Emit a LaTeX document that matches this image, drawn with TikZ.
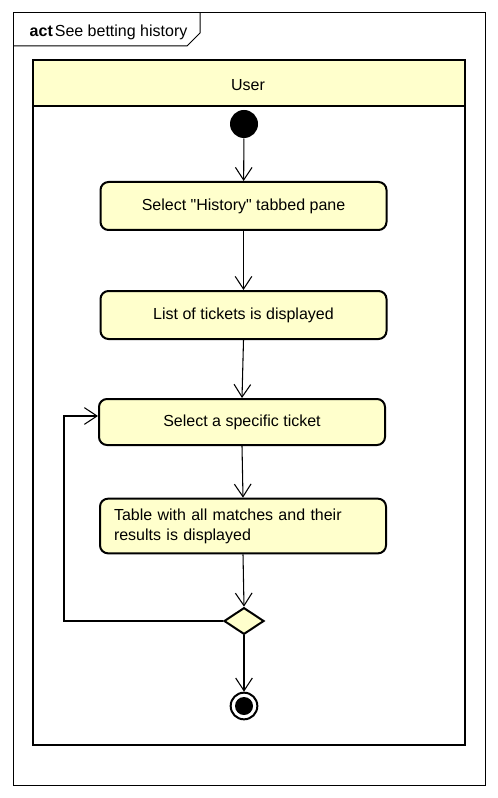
\documentclass[tikz,border=0pt]{standalone}
\usepackage{fontspec}
\setmainfont{Liberation Sans}[Ligatures=TeXOff]
\usetikzlibrary{shapes.geometric,arrows.meta}
\definecolor{umlyellow}{RGB}{255,255,204}
\tikzset{
  action/.style={draw, line width=1.5pt, rounded corners=6pt, fill=umlyellow,
    minimum width=214.5pt, minimum height=36pt, inner sep=0pt},
  flow/.style={-{Straight Barb[length=9.5pt,width=12.5pt]}, line width=0.8pt},
  initnode/.style={circle, fill=black, minimum size=21pt, inner sep=0pt},
  finalnode/.style={circle, draw, line width=1.5pt, minimum size=20pt, inner sep=0pt,
    path picture={\fill (path picture bounding box.center) circle (6.75pt);}},
  decision/.style={diamond, draw, line width=1.5pt, fill=umlyellow,
    minimum width=30pt, minimum height=20pt, inner sep=0pt}
}
\begin{document}
\begin{tikzpicture}[x=0.75pt, y=-0.75pt, every node/.style={font=\fontsize{12}{15}\selectfont}]
  \useasboundingbox (0,0) rectangle (497,798);
  % 1. frame and tab
  \draw[line width=0.75pt] (13,13) rectangle (485,785);
  \draw[line width=0.75pt] (13,46) -- (187,46) -- (200,33) -- (200,13);
  \node[anchor=west] (title) at (25,32) {\textbf{act}\hspace{1.5pt}See betting history};

  % 2. swimlane
  \draw[line width=1.5pt, fill=umlyellow] (33,60) rectangle (465,106);
  \draw[line width=1.5pt] (33,106) rectangle (465,745);
  \node (lane) at (248,85) {User};

  % 3. activity nodes
  \node[initnode] (start) at (244,124) {};
  \node[action, minimum height=36pt] (A1) at (243.5,206) {Select "History" tabbed pane};
  \node[action] (A2) at (243.5,315) {List of tickets is displayed};
  \node[action, minimum height=34.5pt] (A3) at (242,422) {Select a specific ticket};
  \node[action, minimum height=41pt, text width=193.5pt, align=left] (A4) at (243,526)
    {Table with all matches and their\\results is displayed};
  \node[decision] (dec) at (244,621) {};
  \node[finalnode] (stop) at (244,706) {};
  \coordinate (back) at (64,621);

  % 4. control flows
  \draw[flow] (start) -- (A1);
  \draw[flow] (A1) -- (A2);
  \draw[flow] (A2.south) -- (A3.north);
  \draw[flow] (A3.south) -- (A4.north);
  \draw[flow] (A4.south) -- (dec.north);
  \draw[flow] (dec) -- (stop);
  \draw[flow] (dec.west) -- (back) |- ([yshift=4.5pt]A3.west);
\end{tikzpicture}
\end{document}
